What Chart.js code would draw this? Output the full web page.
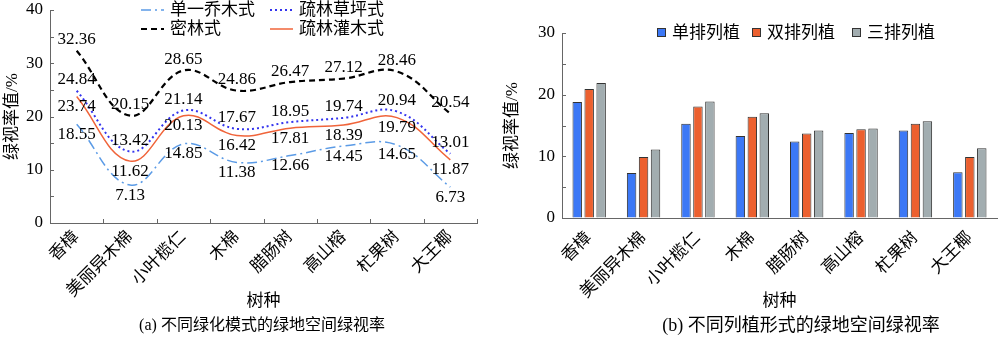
<!DOCTYPE html>
<html>
<head>
<meta charset="utf-8">
<script src="https://cdn.jsdelivr.net/npm/chart.js@4/dist/chart.umd.min.js"></script>
<style>
  html, body { margin: 0; padding: 0; background: #fff; }
  #wrap { position: relative; width: 1000px; height: 337px; overflow: hidden; }
  .box { position: absolute; top: 0; width: 500px; height: 337px; }
  .cap { position: absolute; top: 314px; white-space: nowrap; transform: translateX(-50%);
         font-family: 'Liberation Serif', 'Noto Sans CJK SC', serif; color: #000; line-height: 22px; }
</style>
</head>
<body>
<div id="wrap">
  <div class="box" style="left:0"><canvas id="chartA" width="500" height="337"></canvas></div>
  <div class="box" style="left:500px"><canvas id="chartB" width="500" height="337"></canvas></div>
  <div class="cap" style="left:262px;font-size:16px">(a) 不同绿化模式的绿地空间绿视率</div>
  <div class="cap" style="left:801px;font-size:18px">(b) 不同列植形式的绿地空间绿视率</div>
</div>
<script>
// data
var trees     = ['香樟', '美丽异木棉', '小叶榄仁', '木棉', '腊肠树', '高山榕', '杧果树', '大王椰'];
var danyi     = [18.55, 7.13, 14.85, 11.38, 12.66, 14.45, 14.65, 6.73];
var milin     = [32.36, 20.15, 28.65, 24.86, 26.47, 27.12, 28.46, 20.54];
var caoping   = [24.84, 13.42, 21.14, 17.67, 18.95, 19.74, 20.94, 13.01];
var guanmu    = [23.74, 11.62, 20.13, 16.42, 17.81, 18.39, 19.79, 11.87];
var danpai    = [18.8, 7.3, 15.3, 13.3, 12.4, 13.8, 14.2, 7.4];
var shuangpai = [20.9, 9.9, 18.1, 16.4, 13.7, 14.4, 15.3, 9.9];
var sanpai    = [21.9, 11.1, 18.9, 17.0, 14.2, 14.5, 15.7, 11.3];
var tickStepA = 5, maxA = 40;
var tickStepB = 5, maxB = 30;

var serif = "'Liberation Serif', 'Times New Roman', serif";
var cjk   = "'Liberation Serif', 'Noto Sans CJK SC', serif";

// small inward tick marks on both axes
var innerTicks = {
  id: 'innerTicks',
  afterDraw: function(chart, args, opts) {
    var ctx = chart.ctx, ys = chart.scales.y, xs = chart.scales.x;
    ctx.save();
    ctx.strokeStyle = '#666';
    ctx.lineWidth = 1;
    ys.ticks.forEach(function(t, i) {
      var py = Math.round(ys.getPixelForTick(i)) + 0.5;
      ctx.beginPath(); ctx.moveTo(ys.right, py); ctx.lineTo(ys.right + 4, py); ctx.stroke();
    });
    if (opts.xTicks) {
      var half = (xs.getPixelForValue(1) - xs.getPixelForValue(0)) / 2;
      for (var i = 0; i <= xs.ticks.length; i++) {
        var px = Math.round(xs.getPixelForValue(i) - half) + 0.5;
        ctx.beginPath(); ctx.moveTo(px, xs.top); ctx.lineTo(px, xs.top - 4); ctx.stroke();
      }
    }
    ctx.restore();
  }
};

// value labels above / below the line points
var pointLabels = {
  id: 'pointLabels',
  afterDatasetsDraw: function(chart, args, opts) {
    if (!opts.show) return;
    var ctx = chart.ctx;
    ctx.save();
    ctx.font = '17px ' + serif;
    ctx.fillStyle = '#000';
    ctx.textAlign = 'center';
    ctx.textBaseline = 'middle';
    chart.data.datasets.forEach(function(ds, di) {
      var meta = chart.getDatasetMeta(di);
      meta.data.forEach(function(pt, i) {
        var dy = ds.labelPos === 'above' ? -11 : 10;
        ctx.fillText(ds.data[i].toFixed(2), pt.x, pt.y + dy);
      });
    });
    ctx.restore();
  }
};

// legend drawn inside the plot area
var ownLegend = {
  id: 'ownLegend',
  afterDraw: function(chart, args, opts) {
    var ctx = chart.ctx;
    ctx.save();
    ctx.font = '17px ' + cjk;
    ctx.textBaseline = 'middle';
    ctx.fillStyle = '#000';
    opts.items.forEach(function(it) {
      var ds = chart.data.datasets[it.ds];
      if (opts.kind === 'line') {
        ctx.save();
        ctx.strokeStyle = ds.borderColor;
        ctx.lineWidth = ds.borderWidth;
        ctx.setLineDash(ds.borderDash || []);
        ctx.beginPath(); ctx.moveTo(it.x, it.y); ctx.lineTo(it.x + 23, it.y); ctx.stroke();
        ctx.restore();
        ctx.fillText(ds.label, it.x + 29, it.y + 1);
      } else {
        ctx.fillStyle = ds.backgroundColor;
        ctx.fillRect(it.x + 0.5, it.y - 4.5, 8, 8);
        ctx.strokeStyle = '#333';
        ctx.lineWidth = 1;
        ctx.strokeRect(it.x + 0.5, it.y - 4.5, 8, 8);
        ctx.fillStyle = '#000';
        ctx.fillText(ds.label, it.x + 15, it.y + 1);
      }
    });
    ctx.restore();
  }
};

function tenOnly(v) {
  return v % 10 === 0 ? v : '';
}

function yAxis(max, step, width, top) {
  return {
    min: 0, max: max,
    ticks: { stepSize: step, callback: tenOnly, color: '#000', padding: 7, font: { family: serif, size: 17 } },
    grid: { drawOnChartArea: false, drawTicks: false },
    border: { display: true, color: '#666', width: 1 },
    title: { display: true, text: '绿视率值/%', color: '#000', padding: { top: 2, bottom: 0 }, font: { family: cjk, size: 17 } },
    afterFit: function(s) { s.width = width; s.paddingTop = top; }
  };
}

function xAxis(height, pad) {
  return {
    type: 'category',
    offset: true,
    ticks: { minRotation: 45, maxRotation: 45, color: '#000', padding: pad, autoSkip: false, font: { family: cjk, size: 17 } },
    grid: { drawOnChartArea: false, drawTicks: false, offset: true },
    border: { display: true, color: '#666', width: 1 },
    title: { display: true, text: '树种', color: '#000', padding: { top: 0, bottom: 1 }, font: { family: cjk, size: 17 } },
    afterFit: function(s) { s.height = height; }
  };
}

new Chart(document.getElementById('chartA'), {
  type: 'line',
  data: {
    labels: trees,
    datasets: [
      { label: '单一乔木式', data: danyi, borderColor: '#5b9be6', borderWidth: 1.5, borderDash: [10, 4, 2, 4], labelPos: 'below' },
      { label: '密林式', data: milin, borderColor: '#000', borderWidth: 2.2, borderDash: [6, 4], labelPos: 'above' },
      { label: '疏林草坪式', data: caoping, borderColor: '#3333ee', borderWidth: 2, borderDash: [2, 3], labelPos: 'above' },
      { label: '疏林灌木式', data: guanmu, borderColor: '#f0643a', borderWidth: 1.5, labelPos: 'below' }
    ]
  },
  options: {
    responsive: false,
    animation: false,
    layout: { padding: { left: 0, right: 23, top: 0, bottom: 24 } },
    elements: { point: { radius: 0 }, line: { tension: 0.4, fill: false } },
    scales: { x: xAxis(90, 4), y: yAxis(maxA, tickStepA, 50, 10) },
    plugins: {
      legend: { display: false },
      tooltip: { enabled: false },
      innerTicks: { xTicks: true },
      pointLabels: { show: true },
      ownLegend: {
        kind: 'line',
        items: [ { ds: 0, x: 141, y: 10 }, { ds: 2, x: 270, y: 10 }, { ds: 1, x: 141, y: 29 }, { ds: 3, x: 270, y: 29 } ]
      }
    }
  },
  plugins: [innerTicks, pointLabels, ownLegend]
});

new Chart(document.getElementById('chartB'), {
  type: 'bar',
  data: {
    labels: trees,
    datasets: [
      { label: '单排列植', data: danpai, backgroundColor: '#3c78f6', borderColor: '#333', borderWidth: 1 },
      { label: '双排列植', data: shuangpai, backgroundColor: '#ec602f', borderColor: '#333', borderWidth: 1 },
      { label: '三排列植', data: sanpai, backgroundColor: '#a2adb0', borderColor: '#333', borderWidth: 1 }
    ]
  },
  options: {
    responsive: false,
    animation: false,
    layout: { padding: { left: 0, right: 3, top: 0, bottom: 24 } },
    datasets: { bar: { categoryPercentage: 0.66, barPercentage: 0.79 } },
    scales: { x: xAxis(95, 10), y: yAxis(maxB, tickStepB, 62, 33) },
    plugins: {
      legend: { display: false },
      tooltip: { enabled: false },
      innerTicks: { xTicks: false },
      pointLabels: { show: false },
      ownLegend: {
        kind: 'box',
        items: [ { ds: 0, x: 157, y: 33 }, { ds: 1, x: 252, y: 33 }, { ds: 2, x: 352, y: 33 } ]
      }
    }
  },
  plugins: [innerTicks, pointLabels, ownLegend]
});
</script>
</body>
</html>
